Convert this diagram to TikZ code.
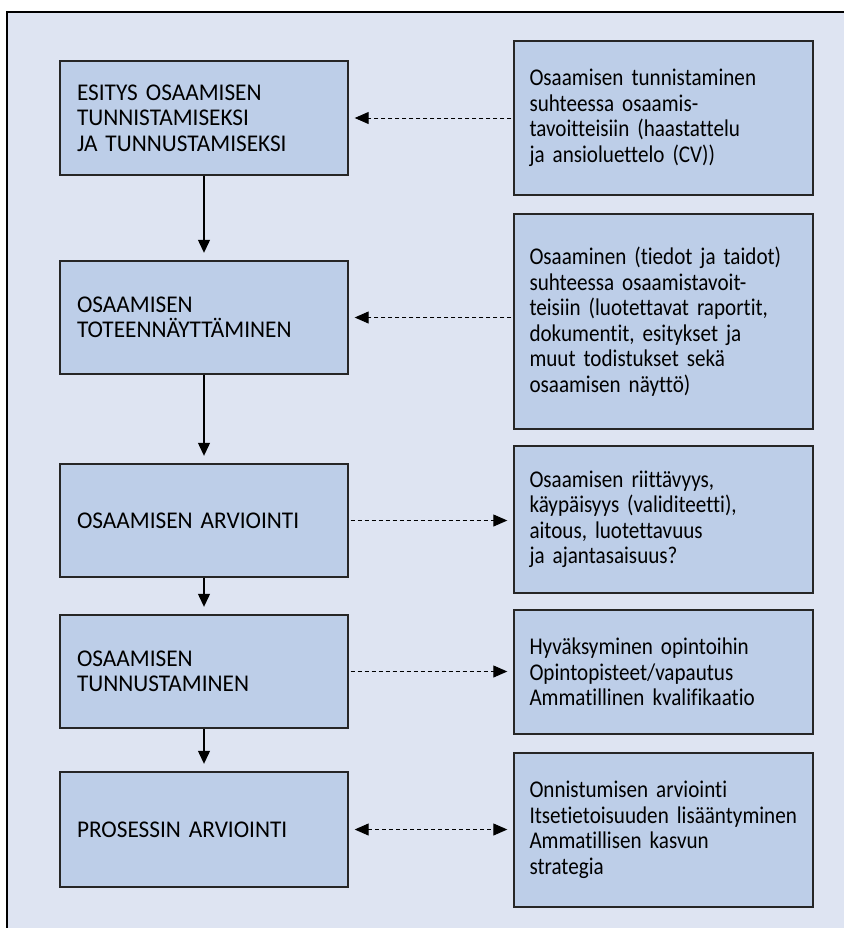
\documentclass[tikz,border=0pt]{standalone}
\usepackage{fontspec}
\setmainfont{Carlito}[Ligatures=NoCommon, FakeStretch=0.88]
\newfontfamily\capsfont{Carlito}[Ligatures=NoCommon, FakeStretch=0.97]
\usepackage{xcolor}
\usetikzlibrary{arrows.meta}
\definecolor{framebg}{RGB}{222,228,242}
\definecolor{boxfill}{RGB}{189,206,232}
\tikzset{
	stage/.style={draw=black!85, fill=boxfill, line width=0.7pt, align=left,
			inner xsep=8.5pt, inner ysep=0pt, text width=127pt, minimum height=#1,
			execute at begin node={\hyphenpenalty=10000},
			font=\capsfont\fontsize{12}{12.75}\selectfont},
	note/.style={stage=#1, inner xsep=7.75pt, text width=134pt,
			font=\normalfont\fontsize{12}{12.75}\selectfont},
	flow/.style={-{Triangle[length=6.5pt,width=6pt]}, line width=0.6pt, shorten >=3.75pt},
	hint/.style={>={Triangle[length=7pt,width=6pt]}, line width=0.5pt,
			dash pattern=on 2pt off 1.5pt, shorten >=3pt, shorten <=1pt}
}

\begin{document}
\begin{tikzpicture}[x=0.5pt, y=-0.5pt]
	\useasboundingbox (0,0) rectangle (844,928);
	\clip (0,0) rectangle (844,928);
	\draw[fill=framebg, line width=0.8pt] (7,12) rectangle (870,960);

	% vasen sarake
	\node[stage=57pt] (l1) at (204,118) {ESITYS OSAAMISEN\\ TUNNISTAMISEKSI\\ JA TUNNUSTAMISEKSI};
	\node[stage=56.5pt] (l2) at (204,317.5) {OSAAMISEN\\ TOTEENNÄYTTÄMINEN};
	\node[stage=56.5pt] (l3) at (204,520.5) {OSAAMISEN ARVIOINTI};
	\node[stage=56.5pt] (l4) at (204,671.5) {OSAAMISEN\\ TUNNUSTAMINEN};
	\node[stage=57.5pt] (l5) at (204,829.5) {PROSESSIN ARVIOINTI};

	% oikea sarake
	\node[note=77pt] (r1) at (663.5,118) {Osaamisen tunnistaminen\\ suhteessa osaamis-\\ tavoitteisiin (haastattelu\\ ja ansioluettelo (CV))};
	\node[note=107.5pt] (r2) at (663.5,321.5) {Osaaminen (tiedot ja taidot)\\ suhteessa osaamistavoit-\\ teisiin (luotettavat raportit,\\ dokumentit, esitykset ja\\ muut todistukset sekä\\ osaamisen näyttö)};
	\node[note=73.5pt] (r3) at (663.5,519.5) {Osaamisen riittävyys,\\ käypäisyys (validiteetti),\\ aitous, luotettavuus\\ ja ajantasaisuus?};
	\node[note=62pt] (r4) at (663.5,672) {Hyväksyminen opintoihin\\ Opintopisteet/vapautus\\ Ammatillinen kvalifikaatio};
	\node[note=77pt] (r5) at (663.5,830) {Onnistumisen arviointi\\ Itsetietoisuuden lisääntyminen\\ Ammatillisen kasvun\\ strategia};

	\foreach \a/\b in {l1/l2,l2/l3,l3/l4,l4/l5}
		\draw[flow] (\a) -- (\b);

	\draw[hint, ->] (l1 -| r1.west) -- (l1);
	\draw[hint, ->] (l2 -| r2.west) -- (l2);
	\draw[hint, ->] (l3) -- (l3 -| r3.west);
	\draw[hint, ->] (l4) -- (l4 -| r4.west);
	\draw[hint, <->, shorten <=3pt] (l5) -- (l5 -| r5.west);
\end{tikzpicture}
\end{document}
